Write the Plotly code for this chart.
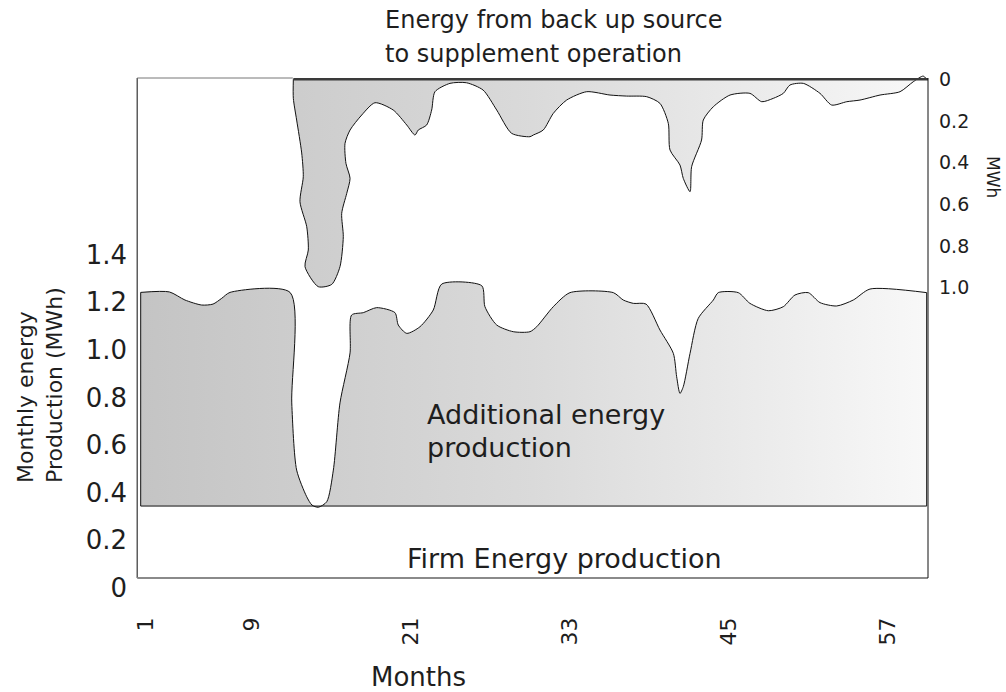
import plotly.graph_objects as go

# ---------------- data ----------------
# x tick months
month_ticks = [1, 9, 21, 33, 45, 57]

# Firm energy production level (MWh, left axis)
firm_level = 0.344

# Upper boundary of the total (firm + additional) energy production (MWh, left axis)
prod_month = [0.60, 2.76, 3.94, 5.20, 6.06, 6.71, 7.34, 11.87, 12.00, 12.37, 13.13,
              13.53, 14.00, 14.64, 15.14, 15.64, 16.40, 16.52, 17.40, 18.41, 19.79,
              20.04, 20.68, 21.68, 22.68, 23.32, 26.34, 26.58, 27.47, 28.72, 29.98,
              30.49, 31.74, 33.00, 36.27, 37.02, 37.78, 38.74, 39.79, 40.80, 41.05,
              41.30, 41.55, 42.06, 42.68, 43.82, 44.19, 45.70, 46.58, 47.97, 49.10,
              49.98, 50.98, 51.87, 53.13, 54.38, 55.64, 59.92]
prod_value = [1.241, 1.243, 1.209, 1.188, 1.192, 1.216, 1.241, 1.241, 0.777, 0.495, 0.383,
              0.348, 0.339, 0.362, 0.495, 0.777, 0.987, 1.146, 1.156, 1.177, 1.156,
              1.104, 1.069, 1.097, 1.167, 1.276, 1.269, 1.181, 1.104, 1.076, 1.076,
              1.097, 1.181, 1.240, 1.240, 1.209, 1.195, 1.192, 1.083, 0.985, 0.887,
              0.817, 0.845, 0.985, 1.132, 1.209, 1.240, 1.240, 1.195, 1.164, 1.181,
              1.230, 1.240, 1.198, 1.184, 1.209, 1.255, 1.240]

# Energy from back-up source (MWh, right axis, measured downward from 0)
backup_month = [12.12, 12.12, 12.37, 12.75, 12.87, 12.62, 13.13, 13.25, 13.00, 14.00,
                15.02, 15.64, 15.89, 15.77, 16.15, 16.40, 16.09, 16.02, 16.40, 17.28,
                18.28, 19.66, 20.68, 21.30, 21.55, 22.18, 22.56, 22.81, 23.94, 25.19,
                26.44, 27.47, 28.60, 29.98, 30.23, 30.98, 31.74, 32.75, 34.26, 36.02,
                37.28, 38.79, 39.79, 40.42, 40.55, 41.30, 41.55, 42.06, 42.18, 42.93,
                43.06, 43.82, 45.08, 46.58, 47.47, 48.34, 49.10, 49.60, 50.61, 51.87,
                52.75, 53.89, 54.89, 56.40, 57.91, 58.91, 59.66, 59.92]
backup_value = [0.000, 0.092, 0.196, 0.354, 0.468, 0.588, 0.708, 0.820, 0.900, 0.996,
                0.985, 0.900, 0.756, 0.644, 0.548, 0.476, 0.404, 0.308, 0.244, 0.172,
                0.113, 0.148, 0.220, 0.268, 0.244, 0.220, 0.148, 0.060, 0.020, 0.017,
                0.052, 0.148, 0.260, 0.276, 0.268, 0.244, 0.164, 0.100, 0.060, 0.076,
                0.081, 0.084, 0.116, 0.212, 0.340, 0.412, 0.476, 0.540, 0.420, 0.292,
                0.196, 0.132, 0.076, 0.068, 0.108, 0.092, 0.068, 0.028, 0.020, 0.068,
                0.124, 0.108, 0.100, 0.076, 0.060, 0.012, -0.015, 0.000]

left_ticks = [0, 0.2, 0.4, 0.6, 0.8, 1.0, 1.2, 1.4]
left_ticktext = ["0", "0.2", "0.4", "0.6", "0.8", "1.0", "1.2", "1.4"]
right_ticks = [0, 0.2, 0.4, 0.6, 0.8, 1.0]
right_ticktext = ["0", "0.2", "0.4", "0.6", "0.8", "1.0"]

# ---------------- figure ----------------
FONT = "DejaVu Sans"
TXT = "#1e1e1e"
grad = dict(type="horizontal", colorscale=[[0, "#c4c4c4"], [0.5, "#dadada"], [1, "#f8f8f8"]],
            start=0.4, stop=60.0)

fig = go.Figure()

# firm-level base (U shape: left side, firm line, right side)
fig.add_trace(go.Scatter(
    x=[prod_month[0], prod_month[0], prod_month[-1], prod_month[-1]],
    y=[prod_value[0], firm_level, firm_level, prod_value[-1]],
    mode="lines", line=dict(color="#111111", width=1),
    hoverinfo="skip", showlegend=False, yaxis="y"))

# additional energy production curve, filled down to the firm level
fig.add_trace(go.Scatter(
    x=prod_month, y=prod_value, mode="lines", fill="tonexty", fillgradient=grad,
    line=dict(color="#111111", width=1, shape="spline", smoothing=0.7),
    hoverinfo="skip", showlegend=False, yaxis="y"))

# back-up energy polygon (hanging from the top, right axis reversed)
fig.add_trace(go.Scatter(
    x=backup_month, y=backup_value, mode="lines", fill="toself", fillgradient=grad,
    line=dict(color="#111111", width=1, shape="spline", smoothing=0.7),
    hoverinfo="skip", showlegend=False, yaxis="y2"))

# dark top edge over the back-up region
fig.add_trace(go.Scatter(
    x=[backup_month[0], 60.02], y=[0, 0], mode="lines",
    line=dict(color="#3a3a3a", width=2.5), hoverinfo="skip", showlegend=False,
    yaxis="y2"))

fig.update_layout(
    width=1006, height=692,
    margin=dict(l=138, r=78, t=70, b=92),
    paper_bgcolor="white", plot_bgcolor="rgba(0,0,0,0)",
    font=dict(family=FONT, color=TXT),
    xaxis=dict(range=[0.396, 60.02], tickvals=month_ticks, tickangle=-90,
               showgrid=False, zeroline=False, showline=False, ticks="",
               ticklabelstandoff=12, tickfont=dict(size=22, family=FONT, color=TXT)),
    yaxis=dict(range=[-0.0504, 2.1747], tickvals=left_ticks, ticktext=left_ticktext,
               showgrid=False, zeroline=False, showline=False, ticks="",
               ticklabelstandoff=10, tickfont=dict(size=26, family=FONT, color=TXT)),
    yaxis2=dict(range=[2.5002, -0.0442], overlaying="y", side="right",
                tickvals=right_ticks, ticktext=right_ticktext,
                showgrid=False, zeroline=False, showline=False, ticks="",
                ticklabelstandoff=10, tickfont=dict(size=19, family=FONT, color=TXT)),
)

# frame of the plot box
frame = [
    dict(x0=-0.001, x1=-0.001, y0=0.0415, y1=0.9849, color="#444444", width=1.3),
    dict(x0=-0.001, x1=1.0, y0=0.0415, y1=0.0415, color="#8a8a8a", width=2),
    dict(x0=-0.001, x1=0.196, y0=0.9849, y1=0.9849, color="#777777", width=1),
    dict(x0=1.0, x1=1.0, y0=0.0415, y1=0.9849, color="#111111", width=1),
]
for f in frame:
    fig.add_shape(type="line", xref="x domain", yref="y domain",
                  x0=f["x0"], x1=f["x1"], y0=f["y0"], y1=f["y1"],
                  line=dict(color=f["color"], width=f["width"]), layer="above")


def label(text, px, py, size, xanchor="left", angle=0, align="center"):
    fig.add_annotation(text=text, x=(px - 138) / 790, y=(600 - py) / 530,
                       xref="paper", yref="paper", showarrow=False,
                       xanchor=xanchor, yanchor="middle", textangle=angle, align=align,
                       font=dict(size=size, family=FONT, color=TXT))


label("Energy from back up source", 383, 20, 24)
label("to supplement operation", 383, 54, 24)
label("Additional energy", 425, 414, 27)
label("production", 425, 447, 27)
label("Firm Energy production", 405, 558, 27)
label("Months", 418, 677, 26, xanchor="center")
label("Monthly energy<br>Production (MWh)", 40, 385, 22, xanchor="center", angle=-90, align="left")
label("MWh", 993, 177, 17, xanchor="center", angle=90)

fig.write_html("out.html", config={"displayModeBar": False},
               post_script="document.body.style.margin='0';")
